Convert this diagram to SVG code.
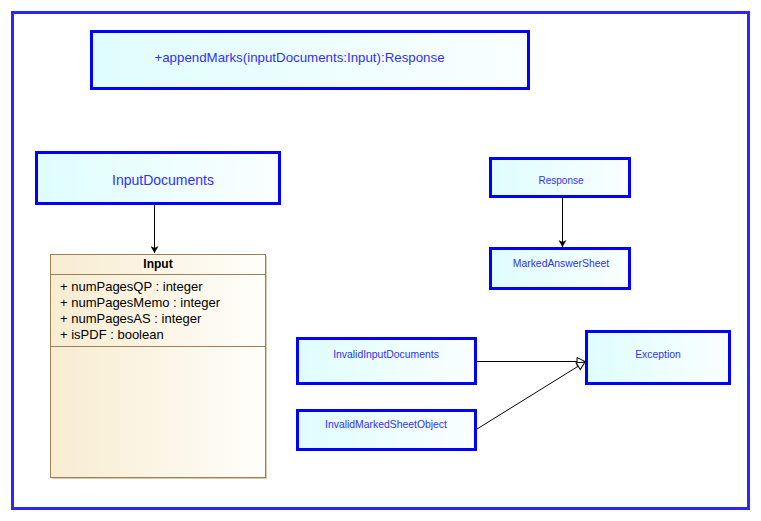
<svg xmlns="http://www.w3.org/2000/svg" width="761" height="521" viewBox="0 0 761 521">
<defs>
<linearGradient id="cyan" x1="0" y1="0" x2="1" y2="0"><stop offset="0" stop-color="#dffdfd"/><stop offset="1" stop-color="#fafeff"/></linearGradient>
<linearGradient id="tan" x1="0" y1="0" x2="1" y2="0"><stop offset="0" stop-color="#f8ecd0"/><stop offset="1" stop-color="#fffefb"/></linearGradient>
<marker id="dep" markerWidth="8" markerHeight="8" refX="7" refY="4" orient="auto" markerUnits="userSpaceOnUse"><path d="M0,0 L7,4 L0,8 L2,4 Z" fill="#000"/></marker>
<marker id="gen" markerWidth="10" markerHeight="10" refX="9" refY="5" orient="auto" markerUnits="userSpaceOnUse"><path d="M1,1 L9,5 L1,9 Z" fill="#fff" stroke="#000" stroke-width="1"/></marker>
</defs>
<style>
.box{fill:url(#cyan);stroke:#0000ff;stroke-width:3}
.lbl{font-family:"Liberation Sans",Arial,sans-serif;fill:#3030ff;text-anchor:middle}
.cls{fill:url(#tan);stroke:#9c8058;stroke-width:1}
.att{font-family:"Liberation Sans",Arial,sans-serif;font-size:13px;fill:#000}
.con{stroke:#000;stroke-width:1;fill:none}
</style>
<rect x="0" y="0" width="761" height="521" fill="#fff"/>
<rect x="12.5" y="12.5" width="736" height="496" fill="#fff" stroke="#2828ff" stroke-width="3"/>
<g id="appendMarks"><rect class="box" x="91.5" y="31.5" width="437" height="57"/><text class="lbl" x="299.5" y="62" font-size="13.3">+appendMarks(inputDocuments:Input):Response</text></g>
<g id="InputDocuments"><rect class="box" x="36.5" y="152.5" width="243" height="51"/><text class="lbl" x="163" y="185" font-size="14">InputDocuments</text></g>
<g id="Input">
<rect x="52" y="256" width="215" height="223" fill="#d8c9a8"/>
<rect class="cls" x="50.5" y="254.5" width="215" height="223"/>
<line x1="50.5" y1="274.5" x2="265.5" y2="274.5" stroke="#9c8058"/>
<line x1="50.5" y1="346.5" x2="265.5" y2="346.5" stroke="#9c8058"/>
<text x="158" y="268" font-family="Liberation Sans,Arial,sans-serif" font-size="12" font-weight="bold" text-anchor="middle">Input</text>
<text class="att" x="60" y="291">+ numPagesQP : integer</text>
<text class="att" x="60" y="307">+ numPagesMemo : integer</text>
<text class="att" x="60" y="323">+ numPagesAS : integer</text>
<text class="att" x="60" y="339">+ isPDF : boolean</text>
</g>
<g id="Response"><rect class="box" x="490.5" y="158.5" width="139" height="38"/><text class="lbl" x="561" y="184" font-size="10">Response</text></g>
<g id="MarkedAnswerSheet"><rect class="box" x="490.5" y="248.5" width="139" height="40"/><text class="lbl" x="561" y="267" font-size="10.4">MarkedAnswerSheet</text></g>
<g id="InvalidInputDocuments"><rect class="box" x="297.5" y="338.5" width="178" height="45"/><text class="lbl" x="386" y="358" font-size="10.4">InvalidInputDocuments</text></g>
<g id="InvalidMarkedSheetObject"><rect class="box" x="297.5" y="410.5" width="178" height="39"/><text class="lbl" x="386" y="428" font-size="10.4">InvalidMarkedSheetObject</text></g>
<g id="Exception"><rect class="box" x="586.5" y="331.5" width="143" height="52"/><text class="lbl" x="658" y="358" font-size="10.4">Exception</text></g>
<g id="connectors">
<line class="con" x1="154.5" y1="205" x2="154.5" y2="253" marker-end="url(#dep)"/>
<line class="con" x1="562.5" y1="197" x2="562.5" y2="247" marker-end="url(#dep)"/>
<line class="con" x1="477" y1="361.5" x2="585" y2="361.5" marker-end="url(#gen)"/>
<line class="con" x1="477" y1="429" x2="585" y2="362" marker-end="url(#gen)"/>
</g>
</svg>
